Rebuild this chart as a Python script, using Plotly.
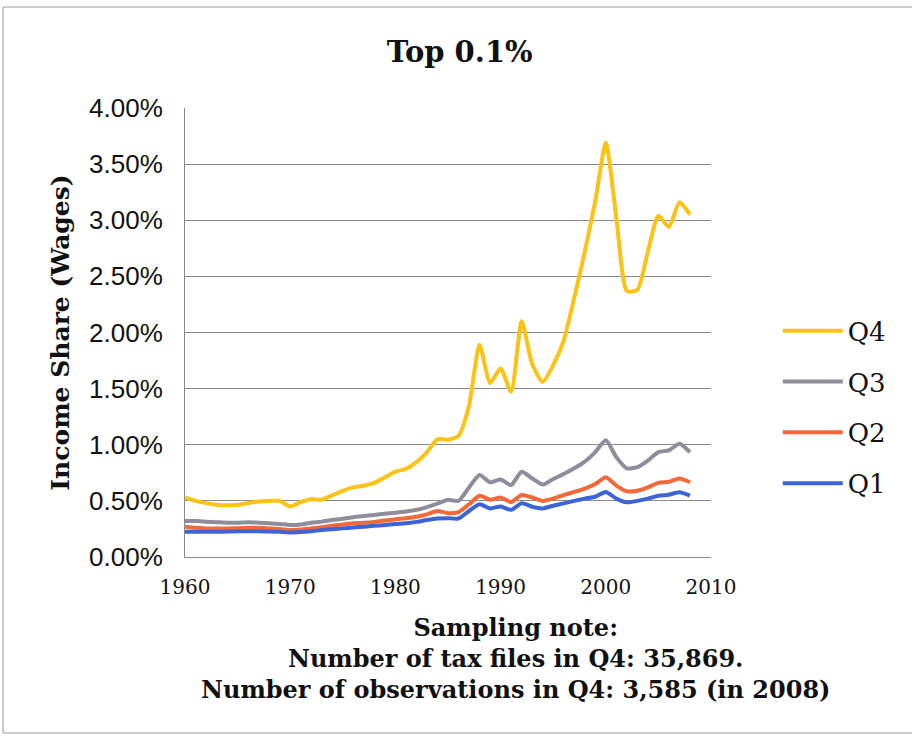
import plotly.graph_objects as go

# Income share of wages for the top 0.1%, by quartile, 1960-2008
years = list(range(1960, 2009))

q4 = [0.53, 0.50, 0.48, 0.465, 0.46, 0.465, 0.48, 0.495, 0.50, 0.50,
      0.45, 0.49, 0.515, 0.51, 0.55, 0.59, 0.62, 0.635, 0.66, 0.71,
      0.76, 0.785, 0.845, 0.935, 1.05, 1.045, 1.08, 1.35, 1.89, 1.55,
      1.68, 1.47, 2.10, 1.72, 1.56, 1.71, 1.93, 2.31, 2.72, 3.17,
      3.69, 3.02, 2.37, 2.38, 2.72, 3.04, 2.94, 3.16, 3.05]

q3 = [0.32, 0.32, 0.315, 0.31, 0.305, 0.305, 0.31, 0.305, 0.30, 0.295,
      0.285, 0.29, 0.305, 0.315, 0.33, 0.34, 0.355, 0.365, 0.375, 0.385,
      0.395, 0.405, 0.42, 0.445, 0.475, 0.51, 0.50, 0.62, 0.73, 0.665,
      0.69, 0.64, 0.76, 0.70, 0.645, 0.695, 0.74, 0.79, 0.85, 0.935,
      1.04, 0.89, 0.79, 0.80, 0.86, 0.935, 0.95, 1.01, 0.935]

q2 = [0.27, 0.26, 0.255, 0.255, 0.255, 0.257, 0.26, 0.26, 0.255, 0.25,
      0.24, 0.245, 0.255, 0.265, 0.278, 0.29, 0.30, 0.305, 0.313, 0.325,
      0.337, 0.345, 0.358, 0.38, 0.41, 0.39, 0.40, 0.47, 0.546, 0.51,
      0.53, 0.49, 0.552, 0.53, 0.50, 0.52, 0.552, 0.58, 0.61, 0.65,
      0.71, 0.636, 0.585, 0.59, 0.62, 0.66, 0.67, 0.70, 0.666]

q1 = [0.225, 0.224, 0.224, 0.225, 0.227, 0.23, 0.23, 0.229, 0.227, 0.224,
      0.218, 0.222, 0.23, 0.24, 0.248, 0.255, 0.263, 0.27, 0.278, 0.285,
      0.293, 0.30, 0.313, 0.33, 0.343, 0.346, 0.343, 0.41, 0.47, 0.433,
      0.45, 0.42, 0.478, 0.448, 0.433, 0.457, 0.478, 0.50, 0.52, 0.537,
      0.58, 0.52, 0.487, 0.50, 0.52, 0.546, 0.555, 0.576, 0.546]

series_names = ["Q4", "Q3", "Q2", "Q1"]
series_values = [q4, q3, q2, q1]
series_colors = ["#FCC214", "#8F8D9B", "#F4683A", "#3D64D6"]

x_ticks = [1960, 1970, 1980, 1990, 2000, 2010]
y_ticks = [0, 0.005, 0.01, 0.015, 0.02, 0.025, 0.03, 0.035, 0.04]

title_text = "Top 0.1%"
y_title = "Income Share (Wages)"
note_lines = ["Sampling note:",
              "Number of tax files in Q4: 35,869.",
              "Number of observations in Q4: 3,585 (in 2008)"]

SERIF = "DejaVu Serif"
SANS = "Liberation Sans"
INK = "#111111"

fig = go.Figure()
for name, vals, color in zip(series_names, series_values, series_colors):
    fig.add_trace(go.Scatter(
        x=years, y=[v / 100 for v in vals], name=name, mode="lines",
        line=dict(color=color, width=4, shape="spline", smoothing=0.6),
        legendgroup=name,
    ))

fig.update_layout(
    width=912, height=736,
    margin=dict(l=185, r=201, t=108, b=179),
    paper_bgcolor="white", plot_bgcolor="white",
    showlegend=True,
    legend=dict(
        x=1.127, y=0.556, xanchor="left", yanchor="top",
        font=dict(family=SERIF, size=26, color=INK),
        tracegroupgap=14, itemwidth=60, bgcolor="rgba(0,0,0,0)",
    ),
    xaxis=dict(
        range=[1960, 2010], tickvals=x_ticks, ticktext=[str(t) for t in x_ticks],
        showgrid=False, zeroline=False, showline=True, linecolor="#8a8a8a", linewidth=1,
        ticks="", ticklabelstandoff=12,
        tickfont=dict(family=SERIF, size=20, color=INK),
    ),
    yaxis=dict(
        range=[0, 0.04], tickvals=y_ticks, tickformat=".2%",
        showgrid=True, gridcolor="#8a8a8a", gridwidth=1, zeroline=False,
        showline=True, linecolor="#8a8a8a", linewidth=1,
        ticks="", ticklabelstandoff=16,
        tickfont=dict(family=SANS, size=26, color=INK),
        title=dict(text=f"<b>{y_title}</b>", standoff=12,
                   font=dict(family=SERIF, size=25, color=INK)),
    ),
    title=dict(text=f"<b>{title_text}</b>", x=0.504, xanchor="center",
               y=0.93, yanchor="middle",
               font=dict(family=SERIF, size=29, color=INK)),
)

# Sampling note under the axis
fig.add_annotation(
    text="<br>".join(f"<b>{t}</b>" for t in note_lines),
    xref="paper", yref="paper",
    x=(515 - 185) / 526, y=(557 - 658) / 449, xanchor="center", yanchor="middle",
    align="center", showarrow=False, font=dict(family=SERIF, size=24, color=INK),
)

# Thin frame around the figure
frame = dict(color="#9a9a9a", width=1)
x0, y_top, y_bot, x_right = (3 - 185) / 526, 1 + (108 - 7) / 449, (557 - 733) / 449, (912 - 185) / 526
fig.add_shape(type="line", xref="paper", yref="paper", x0=x0, x1=x0, y0=y_bot, y1=y_top, line=frame)
fig.add_shape(type="line", xref="paper", yref="paper", x0=x0, x1=x_right, y0=y_top, y1=y_top, line=frame)
fig.add_shape(type="line", xref="paper", yref="paper", x0=x0, x1=x_right, y0=y_bot, y1=y_bot, line=frame)

fig.write_html("out.html")
